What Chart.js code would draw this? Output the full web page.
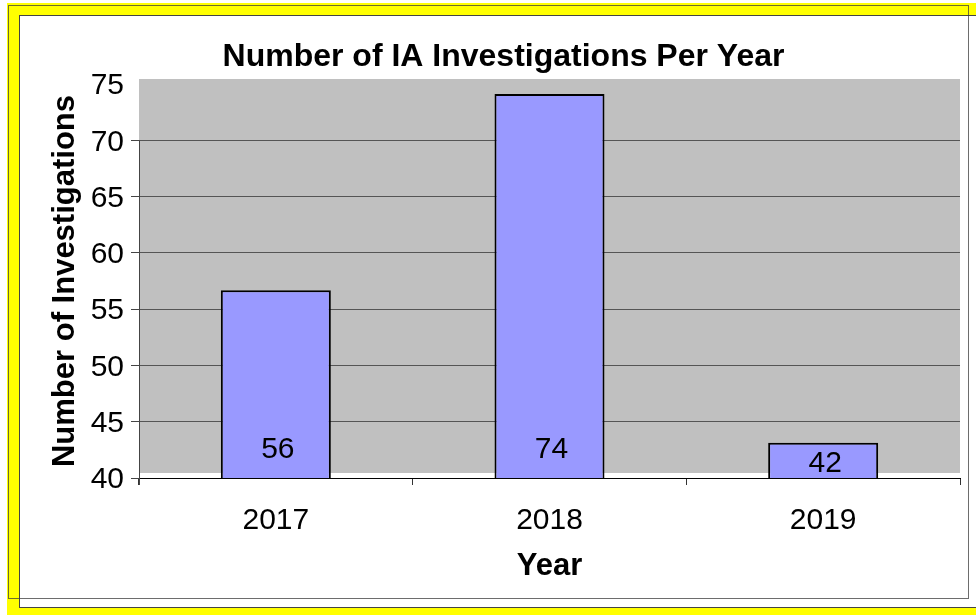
<!DOCTYPE html>
<html><head><meta charset="utf-8">
<script src="https://cdn.jsdelivr.net/npm/chart.js@4"></script>
<style>
html,body{margin:0;padding:0;background:#fff;width:976px;height:615px;overflow:hidden;position:relative;}
#yellow{position:absolute;left:7px;top:3px;width:969px;height:612px;background:#ffff00;}
#card{position:absolute;left:19px;top:15px;width:970px;height:591px;background:#fff;border-top:1px solid #444;border-left:1px solid #444;border-bottom:1px solid #444;}
#frame{position:absolute;left:8px;top:5px;width:959px;height:592px;border:1px solid rgba(60,60,60,0.75);}
canvas{position:absolute;left:0;top:0;}
</style></head>
<body>
<div id="yellow"></div><div id="card"></div><div id="frame"></div>
<canvas id="c" width="976" height="615"></canvas>
<script>
const categories = ['2017', '2018', '2019'];
const investigations = [56, 74, 42];
const yTickValues = [40, 45, 50, 55, 60, 65, 70, 75];
const chartTitle = 'Number of IA Investigations Per Year';
const xTitle = 'Year';
const yTitle = 'Number of Investigations';

const FONT = "'Liberation Sans', Arial, sans-serif";

const plotBg = {
  id: 'plotBg',
  beforeDraw(chart) {
    const {ctx, chartArea: a} = chart;
    ctx.save();
    ctx.fillStyle = '#C0C0C0';
    ctx.fillRect(a.left, a.top - 5, a.right - a.left, a.bottom - a.top);
    ctx.restore();
  }
};

const yAxisLine = {
  id: 'yAxisLine',
  afterDraw(chart) {
    const {ctx, chartArea: a, scales} = chart;
    const y0 = scales.y.getPixelForValue(yTickValues[yTickValues.length - 2]);
    ctx.save();
    ctx.strokeStyle = '#444';
    ctx.lineWidth = 1;
    ctx.beginPath();
    ctx.moveTo(Math.round(a.left) + 0.5, y0);
    ctx.lineTo(Math.round(a.left) + 0.5, a.bottom + 7);
    ctx.stroke();
    ctx.restore();
  }
};

const valueLabels = {
  id: 'valueLabels',
  afterDraw(chart) {
    const ctx = chart.ctx;
    const meta = chart.getDatasetMeta(0);
    const yb = chart.scales.yb;
    const values = chart.data.datasets[0].data;
    const basePx = chart.chartArea.bottom;
    ctx.save();
    ctx.font = '30px ' + FONT;
    ctx.fillStyle = '#000000';
    ctx.textAlign = 'center';
    ctx.textBaseline = 'middle';
    meta.data.forEach((bar, i) => {
      const p = bar.getProps(['x', 'y'], true);
      const topPx = yb.getPixelForValue(values[i]);
      const h = basePx - topPx;
      const off = Math.min(28, h / 2 - 3);
      ctx.fillText(String(values[i]), p.x + 2, basePx - off);
    });
    ctx.restore();
  }
};

new Chart(document.getElementById('c'), {
  type: 'bar',
  data: {
    labels: categories,
    datasets: [{
      data: investigations,
      yAxisID: 'yb',
      backgroundColor: '#9999FF',
      borderColor: '#000000',
      borderWidth: 2,
      borderSkipped: false,
      barPercentage: 0.402,
      categoryPercentage: 1.0
    }]
  },
  options: {
    responsive: false,
    animation: false,
    events: [],
    layout: {padding: {left: 47, right: 16, top: 0, bottom: 0}},
    plugins: {
      legend: {display: false},
      tooltip: {enabled: false},
      title: {
        display: true,
        text: chartTitle,
        color: '#000',
        font: {family: FONT, size: 32, weight: 'bold'},
        padding: {top: 38, bottom: 7.6}
      }
    },
    scales: {
      x: {
        offset: true,
        grid: {offset: true, drawOnChartArea: false, drawTicks: true, tickLength: 7, color: '#333'},
        border: {display: true, color: '#000', width: 1},
        ticks: {color: '#000', font: {family: FONT, size: 30}, padding: 18},
        title: {display: true, text: xTitle, color: '#000', font: {family: FONT, size: 31, weight: 'bold'}, padding: {top: 0, bottom: 30}},
        afterFit(s) { s.height = 137; }
      },
      y: {
        min: 40, max: 75,
        afterBuildTicks(s) { s.ticks = yTickValues.map(v => ({value: v})); },
        grid: {
          color: c => (c.tick && c.tick.value === 75) ? 'rgba(0,0,0,0)' : '#555',
          tickColor: c => (c.tick && c.tick.value === 75) ? 'rgba(0,0,0,0)' : '#444',
          drawTicks: true, tickLength: 8, lineWidth: 1
        },
        border: {display: false},
        ticks: {color: '#000', font: {family: FONT, size: 30}, padding: 7, labelOffset: 2},
        title: {display: true, text: yTitle, color: '#000', font: {family: FONT, size: 31, weight: 'bold'}, padding: {top: 0, bottom: 0}},
        afterFit(s) { s.width = 92; }
      },
      yb: {
        display: false,
        min: 38.76, max: 74.92
      }
    }
  },
  plugins: [plotBg, yAxisLine, valueLabels]
});
</script>
</body></html>
